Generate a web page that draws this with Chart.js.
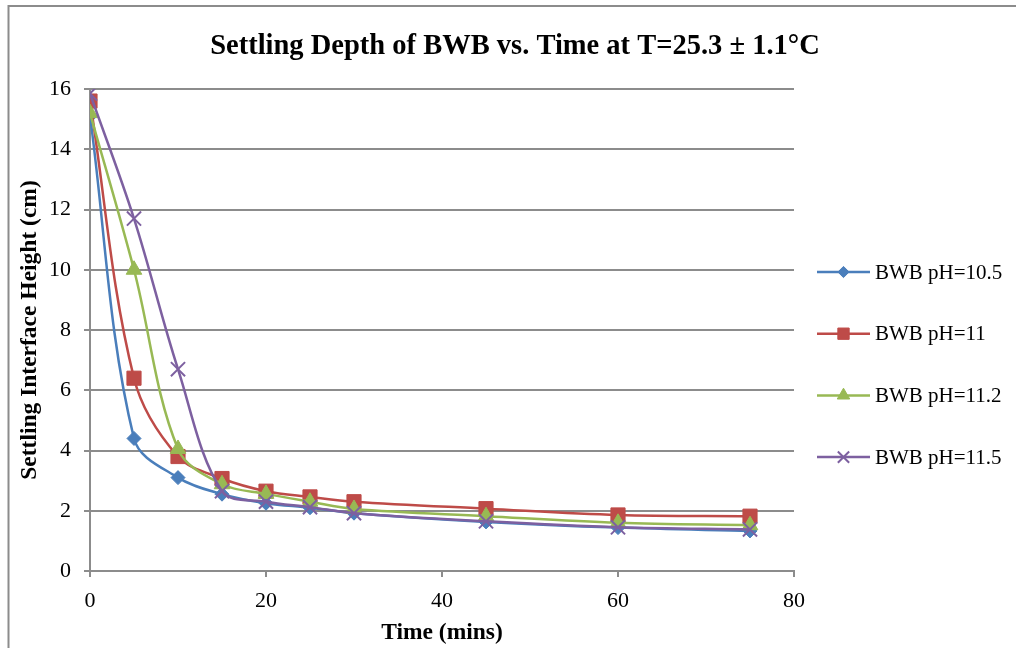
<!DOCTYPE html>
<html>
<head>
<meta charset="utf-8">
<title>Settling Depth of BWB vs. Time</title>
<script src="https://cdn.jsdelivr.net/npm/chart.js@4.4.0/dist/chart.umd.min.js"></script>
<style>
  html, body { margin: 0; padding: 0; background: #fff; }
  #wrap { position: relative; width: 1016px; height: 648px; }
</style>
</head>
<body>
<div id="wrap"><canvas id="chart" width="1016" height="648"></canvas></div>
<script>
// Sampling times (minutes)
const times = [0, 5, 10, 15, 20, 25, 30, 45, 60, 75];

// Settling interface height (cm) for each pH
const heightPH105 = [15.1, 4.4, 3.1, 2.55, 2.25, 2.1, 1.92, 1.63, 1.44, 1.33];
const heightPH11  = [15.6, 6.4, 3.8, 3.07, 2.65, 2.46, 2.3, 2.07, 1.86, 1.82];
const heightPH112 = [15.2, 10.0, 4.05, 2.88, 2.56, 2.3, 2.06, 1.82, 1.6, 1.52];
const heightPH115 = [15.85, 11.7, 6.7, 2.65, 2.3, 2.12, 1.92, 1.65, 1.45, 1.38];

const seriesNames = ['BWB pH=10.5', 'BWB pH=11', 'BWB pH=11.2', 'BWB pH=11.5'];

// Axis ticks
const xTicks = [0, 20, 40, 60, 80];
const yTicks = [0, 2, 4, 6, 8, 10, 12, 14, 16];

const SERIF = "'Liberation Serif', 'Times New Roman', serif";
const GRID = '#8c8c8c';

function pairs(xs, ys) { return xs.map((x, i) => ({ x: x, y: ys[i] })); }

const styles = [
  { color: '#4A7EBB', pointStyle: 'rectRot',  radius: 7,  borderWidth: 1 },
  { color: '#BE4B48', pointStyle: 'rect',     radius: 10, borderWidth: 1 },
  { color: '#98B954', pointStyle: 'triangle', radius: 9,  borderWidth: 1 },
  { color: '#7D60A0', pointStyle: 'crossRot', radius: 10, borderWidth: 2 }
];
const values = [heightPH105, heightPH11, heightPH112, heightPH115];

const datasets = values.map((vals, i) => ({
  label: seriesNames[i],
  data: pairs(times, vals),
  showLine: true,
  borderColor: styles[i].color,
  backgroundColor: styles[i].color,
  borderWidth: 2.5,
  tension: 0.35,
  pointStyle: styles[i].pointStyle,
  pointRadius: styles[i].radius,
  pointBorderWidth: styles[i].borderWidth,
  pointBorderColor: styles[i].color,
  pointBackgroundColor: styles[i].color,
  order: values.length - i
}));

// Outer frame of the chart object
const framePlugin = {
  id: 'frame',
  beforeDraw(chart) {
    const ctx = chart.ctx;
    ctx.save();
    ctx.fillStyle = '#fff';
    ctx.fillRect(0, 0, chart.width, chart.height);
    ctx.strokeStyle = '#8c8c8c';
    ctx.lineWidth = 2;
    ctx.strokeRect(8.5, 6, chart.width + 20, chart.height + 20);
    ctx.restore();
  }
};

// Centre the title over the whole chart object rather than the plot column
const titleSpanPlugin = {
  id: 'titleSpan',
  afterLayout(chart) {
    const t = chart.titleBlock;
    if (t) { t.left = 9; t.right = chart.width + 5; }
  }
};

// Right-hand legend: line sample with marker, then the series name
const lineLegendPlugin = {
  id: 'lineLegend',
  afterDraw(chart, args, opts) {
    const ctx = chart.ctx;
    ctx.save();
    chart.data.datasets.forEach((ds, i) => {
      const y = opts.top + i * opts.spacing;
      ctx.strokeStyle = ds.borderColor;
      ctx.lineWidth = ds.borderWidth;
      ctx.beginPath();
      ctx.moveTo(opts.left, y);
      ctx.lineTo(opts.left + opts.lineLength, y);
      ctx.stroke();
      ctx.fillStyle = ds.pointBackgroundColor;
      ctx.strokeStyle = ds.pointBorderColor;
      ctx.lineWidth = ds.pointBorderWidth;
      Chart.helpers.drawPoint(ctx, {
        pointStyle: ds.pointStyle,
        radius: ds.pointRadius * 0.8,
        rotation: 0,
        borderWidth: ds.pointBorderWidth
      }, opts.left + opts.lineLength / 2, y);
      ctx.fillStyle = '#000';
      ctx.font = opts.font;
      ctx.textAlign = 'left';
      ctx.textBaseline = 'middle';
      ctx.fillText(ds.label, opts.left + opts.lineLength + 5, y + 1);
    });
    ctx.restore();
  }
};

new Chart(document.getElementById('chart'), {
  type: 'scatter',
  data: { datasets: datasets },
  plugins: [framePlugin, titleSpanPlugin, lineLegendPlugin],
  options: {
    responsive: false,
    animation: false,
    layout: { padding: { left: 9, right: 222, top: 0, bottom: 0 } },
    plugins: {
      legend: { display: false },
      tooltip: { enabled: false },
      title: {
        display: true,
        text: 'Settling Depth of BWB vs. Time at T=25.3 \u00B1 1.1\u00B0C',
        color: '#000',
        font: { family: SERIF, size: 28.5, weight: 'bold' },
        padding: { top: 30, bottom: 24.8 }
      },
      lineLegend: {
        left: 817, lineLength: 53, top: 272, spacing: 61.7,
        font: '21px ' + SERIF
      }
    },
    scales: {
      x: {
        type: 'linear',
        min: 0, max: 80,
        afterFit(scale) { scale.height = 77; },
        afterBuildTicks(scale) { scale.ticks = xTicks.map(v => ({ value: v })); },
        grid: { display: true, drawOnChartArea: false, drawTicks: true, tickLength: 6, color: GRID, lineWidth: 2 },
        border: { display: true, color: GRID, width: 2 },
        ticks: { color: '#000', font: { family: SERIF, size: 22 }, padding: 11 },
        title: {
          display: true, text: 'Time (mins)', color: '#000',
          font: { family: SERIF, size: 23.5, weight: 'bold' },
          padding: { top: 0, bottom: 1 }
        }
      },
      y: {
        type: 'linear',
        min: 0, max: 16,
        afterFit(scale) { scale.width = 81; },
        afterBuildTicks(scale) { scale.ticks = yTicks.map(v => ({ value: v })); },
        grid: { display: true, drawOnChartArea: true, drawTicks: true, tickLength: 6, color: GRID, lineWidth: 2 },
        border: { display: true, color: GRID, width: 2 },
        ticks: { color: '#000', font: { family: SERIF, size: 22 }, padding: 13 },
        title: {
          display: true, text: 'Settling Interface Height (cm)', color: '#000',
          font: { family: SERIF, size: 23.5, weight: 'bold' },
          padding: { top: 7, bottom: 0 }
        }
      }
    }
  }
});
</script>
</body>
</html>
